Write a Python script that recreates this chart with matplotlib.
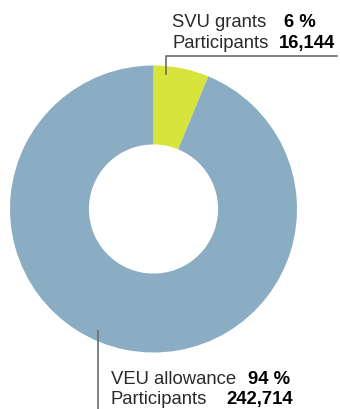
import matplotlib.pyplot as plt
from matplotlib.lines import Line2D

plt.rcParams['font.family'] = ['Liberation Sans', 'DejaVu Sans']

programs = ['SVU grants', 'VEU allowance']
participants = [16144, 242714]
shares = [6, 94]
colors = ['#d7e43b', '#8badc4']

W, H = 340, 410
fig = plt.figure(figsize=(W / 100, H / 100), dpi=100)


def fx(px):
    return px / W


def fy(py):
    return 1 - py / H


# donut
ax = fig.add_axes([10 / W, 56.5 / H, 287 / W, 287 / H])
ax.pie(participants, colors=colors, startangle=90, counterclock=False,
       wedgeprops=dict(width=0.55, edgecolor='none'))
ax.set_xlim(-1, 1)
ax.set_ylim(-1, 1)
ax.set_aspect('equal')
ax.axis('off')

fs = 13.3
line_col = '#6b6b6b'
txt_col = '#2a2a2a'

# top label (SVU)
fig.add_artist(Line2D([fx(166), fx(166), fx(337)], [fy(75), fy(57), fy(57)],
                      transform=fig.transFigure, color=line_col, lw=1.2))
fig.text(fx(172), fy(27), programs[0], fontsize=fs, color=txt_col, va='baseline')
fig.text(fx(172), fy(48), 'Participants', fontsize=fs, color=txt_col, va='baseline')
fig.text(fx(284), fy(27), f'{shares[0]} %', fontsize=fs, fontweight='bold', va='baseline')
fig.text(fx(335), fy(48), f'{participants[0]:,}', fontsize=fs, fontweight='bold', va='baseline',
         ha='right')

# bottom label (VEU)
fig.add_artist(Line2D([fx(98), fx(98)], [fy(332), fy(410)],
                      transform=fig.transFigure, color=line_col, lw=1.2))
fig.text(fx(111), fy(384), programs[1], fontsize=fs, color=txt_col, va='baseline')
fig.text(fx(111), fy(404), 'Participants', fontsize=fs, color=txt_col, va='baseline')
fig.text(fx(290), fy(384), f'{shares[1]} %', fontsize=fs, fontweight='bold', va='baseline', ha='right')
fig.text(fx(293), fy(404), f'{participants[1]:,}', fontsize=fs, fontweight='bold', va='baseline', ha='right')

fig.savefig('out.png', dpi=100)
